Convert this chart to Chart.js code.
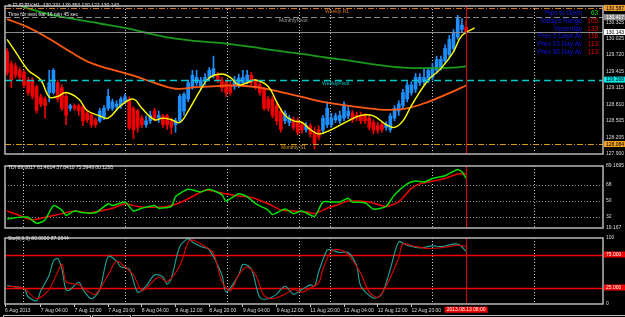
<!DOCTYPE html>
<html><head><meta charset="utf-8">
<script src="https://cdn.jsdelivr.net/npm/chart.js@4.4.0/dist/chart.umd.min.js"></script>
<style>
html,body{margin:0;padding:0;background:#000;width:625px;height:317px;overflow:hidden}
canvas{position:absolute;left:0}
</style></head><body>
<canvas id="main" width="625" height="160" style="top:0px"></canvas>
<canvas id="tdi" width="625" height="74" style="top:160px"></canvas>
<canvas id="sto" width="625" height="85" style="top:232px"></canvas>
<script>
// ---------- DATA ----------
const symbolHeader = "EURJPY,H1  130.231 130.350 130.122 130.143";
const timerText = "Time for next bar 16 min 45 sec";
const opens = [129.78,129.56,129.52,129.44,129.40,129.26,129.26,129.14,128.95,128.91,
129.03,129.03,129.21,129.12,128.96,128.74,128.79,128.79,128.77,128.65,
128.61,128.53,128.51,128.56,128.74,128.74,128.77,128.79,128.86,128.91,
128.74,128.69,128.56,128.44,128.51,128.69,128.56,128.60,128.60,128.51,
128.44,128.51,128.69,128.91,129.14,129.21,129.14,129.23,129.31,129.35,
129.35,129.26,129.21,129.17,129.14,129.17,129.21,129.23,129.35,129.23,
129.17,129.09,128.91,128.91,128.79,128.69,128.51,128.48,128.53,128.51,
128.44,128.35,128.42,128.30,128.35,128.34,128.44,128.44,128.53,128.51,
128.56,128.60,128.65,128.61,128.61,128.60,128.56,128.48,128.42,128.44,
128.39,128.35,128.56,128.69,128.79,128.91,129.03,129.09,129.21,129.23,
129.26,129.31,129.44,129.49,129.61,129.73,129.84,130.05,130.19,130.231];
const highs = [129.84,129.61,129.57,129.49,129.44,129.31,129.30,129.17,129.00,128.95,
129.44,129.47,129.26,129.17,129.03,128.82,128.82,128.82,128.81,128.69,
128.65,128.56,128.74,128.79,129.09,128.91,128.88,128.95,129.00,128.95,
128.77,128.72,128.60,128.60,128.69,128.74,128.69,128.63,128.63,128.56,
128.56,129.00,129.03,129.26,129.44,129.44,129.31,129.38,129.49,129.70,
129.40,129.31,129.26,129.23,129.33,129.37,129.44,129.44,129.40,129.28,
129.23,129.12,128.96,128.96,128.84,128.74,128.70,128.61,128.58,128.56,
128.49,128.48,128.46,128.39,128.42,128.61,128.86,128.65,128.65,128.69,
128.86,128.77,128.70,128.67,128.67,128.65,128.61,128.53,128.48,128.49,
128.49,128.65,128.79,128.88,129.09,129.23,129.23,129.38,129.38,129.47,
129.49,129.57,129.70,129.70,129.91,130.08,130.19,130.45,130.39,130.350];
const lows = [129.35,129.12,129.30,129.26,129.12,128.98,128.91,128.65,128.77,128.56,
128.86,129.00,128.86,128.70,128.44,128.69,128.70,128.61,128.42,128.48,
128.39,128.39,128.48,128.53,128.70,128.70,128.70,128.74,128.82,128.35,
128.18,128.30,128.39,128.39,128.46,128.51,128.48,128.39,128.35,128.27,
128.30,128.48,128.61,128.86,129.09,129.16,129.09,129.17,129.26,129.30,
129.21,129.05,128.96,128.98,129.09,129.12,129.16,129.19,129.16,129.09,
128.98,128.70,128.69,128.56,128.44,128.30,128.46,128.42,128.34,128.25,
128.28,128.30,128.21,127.99,128.16,128.28,128.39,128.39,128.48,128.46,
128.51,128.55,128.48,128.51,128.46,128.46,128.34,128.27,128.28,128.30,
128.34,128.30,128.51,128.61,128.74,128.86,128.98,129.03,129.16,129.17,
129.21,129.26,129.38,129.44,129.56,129.68,129.78,130.01,130.13,130.122];
const closes = [129.40,129.26,129.35,129.31,129.17,129.03,128.96,128.70,128.82,128.79,
129.21,129.44,128.91,128.74,128.61,128.79,128.74,128.69,128.51,128.53,
128.44,128.44,128.69,128.74,128.96,128.86,128.82,128.91,128.95,128.39,
128.34,128.39,128.44,128.51,128.61,128.56,128.61,128.44,128.44,128.39,
128.51,128.96,129.00,129.21,129.35,129.31,129.26,129.31,129.44,129.47,
129.26,129.12,129.03,129.03,129.26,129.30,129.31,129.35,129.21,129.14,
129.03,128.74,128.74,128.61,128.51,128.35,128.65,128.56,128.39,128.30,
128.34,128.42,128.27,128.09,128.21,128.56,128.74,128.56,128.60,128.61,
128.79,128.69,128.53,128.56,128.51,128.51,128.39,128.34,128.34,128.35,
128.44,128.60,128.74,128.82,129.03,129.17,129.17,129.31,129.31,129.31,
129.44,129.49,129.64,129.64,129.84,130.01,130.13,130.39,130.27,130.143];

const fastMaBars = [0,2,5,8,10,12,14,17,19,22,24,27,30,32,35,37,39,41,43,46,48,51,53,55,57,59,62,64,66,68,70,72,74,77,81,84,87,90,92,94,96,100,103,106,108,111];
const fastMaVals = [130.01,129.78,129.44,129.26,128.95,128.96,129.03,128.91,128.70,128.60,128.56,128.79,128.91,128.74,128.53,128.56,128.53,128.48,128.69,129.09,129.30,129.37,129.31,129.17,129.21,129.26,129.14,128.86,128.61,128.51,128.48,128.35,128.27,128.35,128.51,128.61,128.60,128.44,128.39,128.51,128.79,129.26,129.47,129.78,130.08,130.22];
const midMaBars = [0,5,10,15,20,25,30,35,40,45,50,55,60,65,70,75,80,85,90,95,100,105,109];
const midMaVals = [130.38,130.23,130.02,129.78,129.57,129.45,129.34,129.21,129.10,129.13,129.15,129.16,129.12,129.04,128.95,128.86,128.80,128.75,128.71,128.74,128.86,129.02,129.16];
const slowMaBars = [0,4,10,16,22,28,34,40,46,52,58,64,70,76,82,88,94,100,106,109];
const slowMaVals = [130.72,130.60,130.47,130.38,130.30,130.22,130.11,130.02,129.97,129.93,129.87,129.80,129.74,129.67,129.61,129.54,129.49,129.48,129.49,129.51];

const priceTicks = [130.325,130.025,129.720,129.415,129.115,128.810,128.505,128.205,127.900];
const levelNames = ["Weekly R1","MonthlyPivot","Bid","WeeklyPivot","Monthly S1"];
const levelValues = [130.587,130.417,130.143,129.268,128.084];

const infoLabels = ["Pips to Open","Today's Range","Yesterday","Prev 5 Days Av","Prev 10 Day Av","Prev 30 Day Av"];
const infoValues = [63,105,133,116,113,113];

const tdiText = "TDI 89.0817 61.4614 37.8410 75.3949 80.1295";
const tdiPriceBars = [0,3,5,7,9,11,13,14,16,18,21,24,25,28,30,32,35,36,39,40,43,46,48,51,52,55,57,59,62,63,66,68,70,73,75,77,79,81,82,85,87,90,92,95,97,99,101,104,107,108,109];
const tdiPriceVals = [29.5,31.3,31.3,24.4,28.2,44.5,39.4,33.3,38.4,36.4,36.4,46.6,44.5,48.6,38.4,41.5,44.5,41.5,43.5,54.7,62.9,59.8,62.9,56.8,49.6,57.8,54.7,46.6,39.4,34.3,40.5,35.4,38.4,32.3,48.6,48.6,48.6,52.7,48.6,47.6,40.5,43.5,56.8,69.0,72.1,71.1,75.1,78.2,85.3,82.3,75.3949];
const tdiSignalBars = [0,3,6,9,13,16,19,21,25,28,31,34,38,41,44,47,51,54,58,62,65,68,71,73,76,78,81,86,90,93,96,98,101,104,107,109];
const tdiSignalVals = [38.4,33.3,28.2,31.3,35.4,38.4,36.4,37.4,41.5,46.6,43.5,42.5,43.5,47.6,54.7,61.9,58.8,55.8,53.7,46.6,39.4,38.4,37.4,35.4,41.5,44.5,49.6,48.6,43.5,48.6,63.9,69.0,72.1,75.1,80.2,80.1295];
const tdiTicks = [89.1695,68,50,32,19.167];
const tdiLevels = [68,50,32];

const stoText = "Sto(8,3,3) 80.0000 87.2644";
const stoMainBars = [0,2,4,5,7,8,10,11,12,13,14,15,17,18,20,22,24,26,27,29,31,33,35,37,38,39,41,43,44,46,48,51,52,55,56,58,60,62,64,66,68,70,72,73,74,76,77,79,81,83,84,87,89,91,93,95,98,101,103,107,109];
const stoMainVals = [28,26,24,11,5,20,44,65,69,53,21,22,33,22,8,22,72,65,56,53,18,27,44,41,30,39,87,99,94,87,82,44,18,44,60,53,10,8,15,27,15,22,29,27,49,82,82,78,78,58,27,9,15,53,94,89,85,88,87,91,80];
const stoSignalBars = [0,4,7,10,13,14,17,19,21,24,26,28,30,32,34,36,38,41,43,44,47,49,51,53,55,57,59,61,63,66,68,70,72,74,75,77,79,81,84,86,88,90,93,94,97,100,104,107,109];
const stoSignalVals = [27,24,8,22,60,34,29,20,15,44,65,56,44,20,30,41,34,58,94,97,87,77,34,20,44,56,44,13,8,15,22,18,24,32,53,80,82,75,46,18,10,27,70,91,87,84,86,89,87.2644];
const stoTicks = [100,0];
const stoLevels = [75,25];

const timeLabels = ["6 Aug 2013","7 Aug 04:00","7 Aug 12:00","7 Aug 20:00","8 Aug 04:00","8 Aug 12:00","8 Aug 20:00","9 Aug 04:00","9 Aug 12:00","11 Aug 20:00","12 Aug 04:00","12 Aug 12:00","12 Aug 20:00"];
const timeLabelBars = [-0.5,8,16,24,32,40,48,56,64,72,80,88,96];
const currentBar = 109;
const currentTime = "2013.08.13 08:00";
const gridBars = [3.8,28,52.2,69.3,76.7,100.9,125.1];
const SLOTS = 142;

// ---------- STYLE ----------
const FONT = '"Liberation Sans", Arial, sans-serif';
const BULL = '#1e8fff', BEAR = '#f00000';
const levelColors = ['#d2782a','#8a8a8a','#8a8a8a','#00c8c8','#d89a1a'];
const levelDash = [[6,2,1,2],[6,3],[],[7,4],[6,2,1,2]];
const levelBoxBg = ['#f0a030','#8a8a8a','#ffffff','#00e8e8','#f0a020'];
const levelBoxFg = ['#000','#fff','#000','#000','#000'];

Chart.defaults.font.family = FONT;
Chart.defaults.font.size = 5;
Chart.defaults.color = '#dcdcdc';
Chart.defaults.animation = false;
Chart.defaults.events = [];
Chart.defaults.plugins.legend.display = false;
Chart.defaults.plugins.tooltip.enabled = false;

const pts = (b, v) => b.map((x, k) => ({x, y: v[k]}));
const barIdx = opens.map((_, i) => i);
const candleColor = i => closes[i] >= opens[i] ? BULL : BEAR;

function xScale(show) {
  return {type:'linear', min:-0.5, max:SLOTS-0.5, offset:false, display:show, grid:{display:false, offset:false}};
}
function yRight(min, max, ticks, fmt) {
  return {type:'linear', position:'right', min, max, beginAtZero:false,
    afterFit(s){ s.width = 22; },
    afterBuildTicks(s){ s.ticks = ticks.map(v => ({value:v})); },
    grid:{display:false, drawTicks:false},
    border:{display:false},
    ticks:{autoSkip:false, padding:3, color:'#dcdcdc', font:{size:5}, callback:fmt}};
}

function vGrid(chart) {
  const a = chart.chartArea, c = chart.ctx, x = chart.scales.x;
  c.save(); c.strokeStyle = '#c8c8c8'; c.lineWidth = 1; c.setLineDash([1,2]);
  gridBars.forEach(b => { const px = Math.round(x.getPixelForValue(b)) + 0.5;
    c.beginPath(); c.moveTo(px, a.top); c.lineTo(px, a.bottom); c.stroke(); });
  c.restore();
}
function curLine(chart) {
  const a = chart.chartArea, c = chart.ctx, px = Math.round(chart.scales.x.getPixelForValue(currentBar)) + 0.5;
  c.save(); c.strokeStyle = '#e00000'; c.lineWidth = 1;
  c.beginPath(); c.moveTo(px, a.top); c.lineTo(px, a.bottom); c.stroke(); c.restore();
}
function frame(chart) {
  const a = chart.chartArea, c = chart.ctx;
  c.save(); c.strokeStyle = '#b8b8b8'; c.lineWidth = 1.5;
  c.strokeRect(a.left, a.top, a.width, a.height); c.restore();
}
function hLine(chart, v, color, dash, w) {
  const a = chart.chartArea, c = chart.ctx, py = Math.round(chart.scales.y.getPixelForValue(v)) + 0.5;
  c.save(); c.strokeStyle = color; c.lineWidth = w; c.setLineDash(dash);
  c.beginPath(); c.moveTo(a.left, py); c.lineTo(a.right, py); c.stroke(); c.restore();
}
function axisBox(chart, v, bg, fg, text) {
  const a = chart.chartArea, c = chart.ctx, py = chart.scales.y.getPixelForValue(v);
  c.save(); c.fillStyle = bg; c.fillRect(a.right + 1, py - 3, 22, 6);
  c.fillStyle = fg; c.font = '5px ' + FONT; c.textBaseline = 'middle'; c.textAlign = 'left';
  c.fillText(text, a.right + 3, py + 0.3); c.restore();
}
function txt(c, s, x, y, color, size, align) {
  c.fillStyle = color; c.font = size + 'px ' + FONT; c.textBaseline = 'middle'; c.textAlign = align || 'left';
  c.fillText(s, x, y);
}

// ---------- MAIN PRICE PANEL ----------
new Chart(document.getElementById('main'), {
  type: 'bar',
  data: {datasets: [
    {type:'line', data: pts(fastMaBars, fastMaVals), borderColor:'#ffff00', borderWidth:1.4, pointRadius:0, tension:0.4, order:0},
    {type:'line', data: pts(midMaBars, midMaVals), borderColor:'#ff5a14', borderWidth:1.8, pointRadius:0, tension:0.4, order:0},
    {type:'line', data: pts(slowMaBars, slowMaVals), borderColor:'#1a9a1a', borderWidth:1.8, pointRadius:0, tension:0.4, order:0},
    {type:'bar', data: barIdx.map(i => ({x:i, y:[opens[i], closes[i]]})), backgroundColor: ctx => candleColor(ctx.dataIndex),
      grouped:false, barPercentage:1, categoryPercentage:1, maxBarThickness:3, minBarLength:1, borderWidth:0, order:1},
    {type:'bar', data: barIdx.map(i => ({x:i, y:[lows[i], highs[i]]})), backgroundColor: ctx => candleColor(ctx.dataIndex),
      grouped:false, barPercentage:1, categoryPercentage:1, maxBarThickness:1, borderWidth:0, order:2}
  ]},
  options: {responsive:false, devicePixelRatio:1,
    layout:{padding:{left:5, right:0, top:2, bottom:2}},
    scales:{x: xScale(false), y: yRight(127.9, 130.622, priceTicks, v => Number(v).toFixed(3))}},
  plugins: [{id:'mainDeco',
    beforeDatasetsDraw(chart){ vGrid(chart); },
    afterDatasetsDraw(chart){
      const c = chart.ctx, a = chart.chartArea, x = chart.scales.x, y = chart.scales.y;
      levelValues.forEach((v, k) => hLine(chart, v, levelColors[k], levelDash[k], k === 3 ? 1.3 : 1));
      curLine(chart);
      c.save();
      txt(c, levelNames[0], 325, y.getPixelForValue(levelValues[0]) + 3.5, levelColors[0], 5);
      txt(c, levelNames[1], 279, y.getPixelForValue(levelValues[1]) + 3.5, '#9a9a9a', 5);
      txt(c, levelNames[3], 322, y.getPixelForValue(levelValues[3]) + 4.5, '#00c8c8', 5);
      txt(c, levelNames[4], 281, y.getPixelForValue(levelValues[4]) + 4, levelColors[4], 5);
      // header
      c.fillStyle = '#ffffff'; c.beginPath(); c.moveTo(8, 4.5); c.lineTo(11, 4.5); c.lineTo(9.5, 7); c.closePath(); c.fill();
      txt(c, symbolHeader, 13, 6, '#e8e8e8', 5);
      txt(c, timerText, 8, 14.7, '#e8e8e8', 5);
      infoLabels.forEach((s, k) => {
        const yy = 13.3 + k * 7.75;
        txt(c, s, 582, yy, '#1414e6', 6.4, 'right');
        txt(c, String(infoValues[k]), 598, yy, k === 0 ? '#00e000' : '#f00000', 6.4, 'right');
      });
      c.restore();
      frame(chart);
      levelValues.forEach((v, k) => axisBox(chart, v, levelBoxBg[k], levelBoxFg[k], v.toFixed(3)));
    }}]
});

// ---------- TDI PANEL ----------
new Chart(document.getElementById('tdi'), {
  type: 'line',
  data: {datasets: [
    {data: pts(tdiPriceBars, tdiPriceVals), borderColor:'#00e000', borderWidth:1.5, pointRadius:0, tension:0.2, order:0},
    {data: pts(tdiSignalBars, tdiSignalVals), borderColor:'#f00000', borderWidth:1.5, pointRadius:0, tension:0.2, order:1}
  ]},
  options: {responsive:false, devicePixelRatio:1,
    layout:{padding:{left:5, right:0, top:2, bottom:1}},
    scales:{x: xScale(false), y: yRight(19.167, 89.1695, tdiTicks, v => String(v))}},
  plugins: [{id:'tdiDeco',
    beforeDatasetsDraw(chart){ vGrid(chart); tdiLevels.forEach(v => hLine(chart, v, '#8c8c8c', [1,2], 1)); },
    afterDatasetsDraw(chart){ curLine(chart); frame(chart); const c = chart.ctx; c.save(); txt(c, tdiText, 8, 7.3, '#e8e8e8', 5); c.restore(); }}]
});

// ---------- STOCHASTIC PANEL ----------
new Chart(document.getElementById('sto'), {
  type: 'line',
  data: {datasets: [
    {data: pts(stoMainBars, stoMainVals), borderColor:'#1fa59c', borderWidth:1.1, pointRadius:0, tension:0.3, order:1},
    {data: pts(stoSignalBars, stoSignalVals), borderColor:'#e00000', borderWidth:1.1, pointRadius:0, tension:0.3, order:0}
  ]},
  options: {responsive:false, devicePixelRatio:1,
    layout:{padding:{left:5, right:0, top:2, bottom:0}},
    scales:{
      x: {type:'linear', min:-0.5, max:SLOTS-0.5, offset:false, position:'bottom',
        afterFit(s){ s.height = 13; },
        afterBuildTicks(s){ s.ticks = timeLabelBars.map(v => ({value:v})); },
        grid:{display:true, drawOnChartArea:false, drawTicks:true, tickLength:3, color:'#c8c8c8', offset:false},
        border:{display:false},
        ticks:{align:'start', autoSkip:false, maxRotation:0, minRotation:0, padding:1, color:'#dcdcdc', font:{size:5},
          callback:(v, i) => timeLabels[i]}},
      y: yRight(0, 100, stoTicks, v => String(v))}},
  plugins: [{id:'stoDeco',
    beforeDatasetsDraw(chart){ vGrid(chart); stoLevels.forEach(v => hLine(chart, v, '#f00000', [], 1.6)); },
    afterDatasetsDraw(chart){
      curLine(chart); frame(chart);
      const c = chart.ctx, a = chart.chartArea;
      c.save(); txt(c, stoText, 8, 6.3, '#e8e8e8', 5); c.restore();
      stoLevels.forEach(v => axisBox(chart, v, '#f00000', '#ffffff', v.toFixed(3)));
      const px = chart.scales.x.getPixelForValue(currentBar);
      c.save(); c.fillStyle = '#f00000'; c.fillRect(px - 21.5, a.bottom + 2.7, 43, 6);
      txt(c, currentTime, px, a.bottom + 5.8, '#ffffff', 5, 'center');
      c.strokeStyle = '#c0c0c0'; c.lineWidth = 1;
      c.strokeRect(3.5, 83.5, 87, 4); c.strokeRect(92.5, 83.5, 38, 4);
      c.beginPath(); c.moveTo(132, 83.5); c.lineTo(625, 83.5); c.stroke();
      c.restore();
    }}]
});
</script>
</body></html>
